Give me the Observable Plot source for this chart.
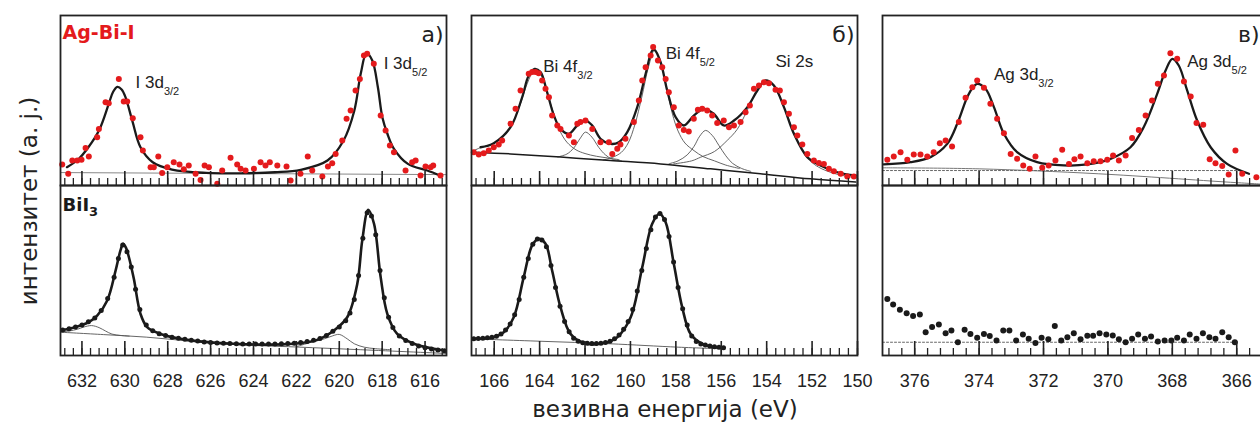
<!DOCTYPE html>
<html><head><meta charset="utf-8">
<script src="https://cdn.jsdelivr.net/npm/d3@7"></script>
<script src="https://cdn.jsdelivr.net/npm/@observablehq/plot@0.6"></script>
<style>
html,body{margin:0;padding:0;background:#fff;overflow:hidden;}
#wrap{position:relative;width:1260px;height:424px;overflow:hidden;background:#fff;}
</style></head><body><div id="wrap"></div>
<script>
// ---------- tick labels (binding energy, eV) ----------
const ticksA = [632,630,628,626,624,622,620,618,616];
const ticksB = [166,164,162,160,158,156,154,152,150];
const ticksC = [376,374,372,370,368,366];
const domainA = [633,615], domainB = [167,150], domainC = [377,365.2];

// ---------- a) I 3d, Ag-Bi-I (top) ----------
const dotsTopA = [[632.92,12.4],[632.64,6.9],[632.45,14.7],[632.22,14.7],[632.02,15.1],[631.83,22],[631.68,17.1],[631.29,28.4],[631.21,33.3],[630.9,49],[630.75,48.4],[630.28,62.7],[630.05,49.4],[629.89,49.4],[629.63,39.6],[629.27,28.4],[629.16,20.6],[628.8,10.8],[628.65,10.8],[628.44,17.1],[628.26,7.3],[628.02,10.8],[627.72,13.7],[627.45,12.4],[627.25,9.6],[627.02,11.8],[626.7,6.9],[626.47,3.3],[626.28,11.8],[626.08,10.8],[625.69,1],[625.46,8.8],[625.07,16.3],[624.76,12.4],[624.6,9.8],[624.37,8.8],[623.98,9.8],[623.67,13.7],[623.44,11.8],[623.24,13.7],[622.89,11.8],[622.46,11.2],[622.27,2.9],[621.81,6.9],[621.47,17.1],[621.26,8.8],[620.79,5.3],[620.53,11.2],[620.33,13.1],[620.17,18.6],[619.86,26.5],[619.66,39.2],[619.47,44.1],[619.24,55.9],[619.04,62.7],[618.85,76.5],[618.7,77.5],[618.39,71.6],[618.07,41.2],[617.84,32.4],[617.64,23.5],[617.45,19.6],[616.91,8.8],[616.6,13.7],[616.44,14.7],[616.21,5.9],[615.98,11.2],[615.74,10.8],[615.62,11.8],[615.28,5.9]];
const fitTopA = [[632.7,10.8],[632.2,15],[631.7,22.5],[631.2,32.5],[630.75,48],[630.55,55],[630.35,58],[630.15,56.5],[629.97,52],[629.65,38],[629.27,22.5],[628.7,13.7],[627.8,9.4],[626.2,7.4],[624.5,7.2],[623,7.8],[621.8,9.2],[620.55,14.7],[619.8,26.5],[619.3,44],[619.0,65.7],[618.73,77.8],[618.46,73.5],[618.2,57.8],[617.99,40],[617.76,30.6],[617.45,21.6],[616.8,12.7],[615.9,8.8],[615.3,5.9]];
const baseTopA = [[633,7.6],[615,6.4]];

// ---------- a) I 3d, BiI3 (bottom) ----------
const dotsBotA = [[632.9,15],[632.6,15.8],[632.3,16.8],[632,18],[631.7,19.8],[631.4,22],[631.1,26.5],[630.8,33.5],[630.5,46],[630.3,57],[630.1,65],[629.9,61],[629.7,52],[629.5,39],[629.3,27],[629,18],[628.7,14.5],[628.4,12.8],[628.1,11.8],[627.8,10.8],[627.5,10.2],[627.2,9.5],[626.9,8.9],[626.6,8.5],[626.3,8],[626,7.6],[625.7,7.4],[625.4,7.2],[625.1,7],[624.8,6.9],[624.5,6.8],[624.2,6.7],[623.9,6.8],[623.6,6.7],[623.3,6.8],[623,6.8],[622.7,6.9],[622.4,7],[622.1,7.2],[621.8,7.6],[621.5,8.2],[621.2,9],[620.9,10],[620.6,11.8],[620.3,14.2],[620,16.8],[619.7,20.5],[619.5,25],[619.3,33],[619.1,47],[618.9,69],[618.7,84],[618.5,82],[618.3,71],[618.1,50],[617.9,34],[617.7,22.5],[617.5,16.5],[617.2,11.5],[616.9,8.8],[616.6,7],[616.3,5.6],[616,4.6],[615.7,3.8],[615.4,3.2],[615.1,2.8]];
const fitBotA = [[633,14.7],[632.5,16],[632.07,17.6],[631.68,19.6],[631.29,23.5],[630.82,32.4],[630.43,50],[630.2,62],[630.08,65.7],[629.95,63.5],[629.81,57.8],[629.58,45.1],[629.27,24.5],[628.96,16.7],[628.34,12.7],[627.09,9.2],[624.92,6.9],[622.12,6.9],[621.03,9.2],[620.25,14.7],[619.63,22.5],[619.16,42.2],[618.93,67.6],[618.65,85.7],[618.38,77.5],[618.07,46.1],[617.76,24.5],[617.3,12.7],[616.52,6.9],[615.12,2.9]];
const baseBotA = [[633,13.7],[631,12.3],[629,10.8],[627,8.5],[625,6.5],[622,5],[619,3.4],[615,1.2]];
const compBotA1 = [[633,13.9],[632.6,14.4],[632.2,15.5],[631.9,16.8],[631.55,17.6],[631.2,16.4],[630.9,14.4],[630.6,12.6],[630.2,11.8],[629.8,11.4]];
const compBotA2 = [[622,5.2],[621.3,7.8],[620.7,9.8],[620.3,11.6],[620,12.4],[619.63,9.8],[619.3,6.9],[618.84,4.9],[618.3,4],[617.6,3.4]];

// ---------- б) Bi 4f / Si 2s, Ag-Bi-I (top) ----------
const dotsTopB = [[166.9,19.6],[166.68,18.2],[166.46,19],[166.24,20.6],[166.02,22.5],[165.8,24.1],[165.65,26.5],[165.28,36.3],[165.06,45.1],[164.84,55.9],[164.48,65.7],[164.33,66.7],[164.18,66.7],[164.04,66.1],[163.89,61.8],[163.74,56.9],[163.59,51.9],[163.45,41.2],[163.22,35.3],[163.08,33.3],[162.71,29.4],[162.49,25.5],[162.34,36.3],[162.2,37.3],[161.98,38.2],[161.68,33.3],[161.32,25.5],[160.95,25.5],[160.8,18.6],[160.58,21.6],[160.44,24.1],[160.22,27.5],[159.85,37.3],[159.63,50],[159.48,61.8],[159.33,69.6],[159.11,76.5],[159,81.4],[158.79,73.5],[158.6,69.6],[158.45,62.7],[158.31,54.9],[158.09,46.1],[157.87,35.3],[157.65,32.7],[157.43,31.8],[157.21,39.2],[157.03,44.5],[156.84,45.1],[156.62,44.1],[156.4,41.2],[156.18,36.7],[155.89,38.2],[155.66,34.3],[155.44,35.3],[155.15,37.3],[154.93,43.1],[154.74,47.1],[154.56,56.9],[154.34,58.8],[154.12,60.8],[153.9,60.2],[153.61,56.3],[153.42,55.9],[153.24,49],[153.02,42.2],[152.8,34.3],[152.65,29.4],[152.43,24.1],[152.21,18.6],[151.92,14.7],[151.7,13.3],[151.48,12.7],[151.26,9.8],[151.04,8.4],[150.74,6.9],[150.45,5.3],[150.16,5.3]];
const fitTopB = [[166.6,22.5],[166.02,24.9],[165.28,34.3],[164.77,51.9],[164.48,64.7],[164.22,68.6],[163.96,66.7],[163.67,54.9],[163.37,41.2],[163.08,33.3],[162.71,30.4],[162.34,35.3],[161.98,38.2],[161.68,35.3],[161.32,27.5],[160.88,24.5],[160.51,25.5],[160.14,31.4],[159.7,46.1],[159.33,65.7],[159.04,79.4],[158.94,79.8],[158.67,72.5],[158.38,55.9],[158.01,40.2],[157.65,35.3],[157.2,41.2],[156.77,45.1],[156.33,42.2],[155.89,35.3],[155.44,38.2],[154.85,46.1],[154.41,55.9],[154.05,61.8],[153.68,58.8],[153.24,46.1],[152.8,30.4],[152.21,16.7],[151.63,11.8],[150.89,7.8],[150.08,5.9]];
const baseTopB = [[166.9,19.6],[165.28,18.6],[163.08,16.7],[160.88,14.7],[158.67,12.7],[156.47,9.8],[154.27,6.9],[152.07,3.9],[150.08,2]];
const compTopB1 = [[166.9,20.5],[166.6,22.3],[166,24.8],[165.6,29],[165.28,34.3],[164.9,46],[164.6,58],[164.35,66],[164.22,68.4],[164,66.5],[163.7,56],[163.4,43],[163.1,32],[162.8,25.5],[162.4,21],[162,18.8],[161.5,17.2],[161,16.2],[160.5,15.2]];
const compTopB2 = [[163.2,16.8],[162.8,18.5],[162.5,22],[162.2,28],[161.98,31.4],[161.7,28.5],[161.4,22.5],[161.1,18],[160.8,15.5],[160.4,14.5]];
const compTopB3 = [[161.2,15],[160.8,16.5],[160.4,19.5],[160.1,25],[159.8,36],[159.5,52],[159.2,70],[158.94,79.6],[158.7,73.5],[158.4,57],[158.15,42],[157.9,32],[157.6,25],[157.2,20.5],[156.8,17],[156.3,14.5],[155.8,12],[155.2,10]];
const compTopB4 = [[158.3,12.8],[157.9,14.5],[157.5,18],[157.2,23],[156.95,29],[156.69,32.4],[156.4,29.5],[156.1,23.5],[155.8,17.5],[155.5,13],[155.1,10],[154.7,8.3]];
const compTopB5 = [[158.1,12.7],[157.3,14.5],[156.9,16.7],[156.3,20],[155.74,26.5],[155.3,33],[154.9,43],[154.5,54],[154.2,60],[154.05,61.5],[153.8,60],[153.5,54],[153.2,45],[152.8,31],[152.4,20],[152,13.5],[151.6,10],[151,7],[150.5,5.5],[150,4.5]];

// ---------- б) Bi 4f, BiI3 (bottom) ----------
const dotsBotB = [[166.9,9.9],[166.7,10],[166.5,10.2],[166.3,10.4],[166.1,10.7],[165.9,11.3],[165.7,12.6],[165.5,15],[165.3,18.5],[165.1,24],[164.9,33],[164.7,46],[164.5,57],[164.3,65.5],[164.1,68.5],[163.9,68],[163.7,64],[163.5,53],[163.3,40],[163.1,29],[162.9,20],[162.7,14],[162.5,10.2],[162.3,8.4],[162.1,7.5],[161.9,7.2],[161.7,7.1],[161.5,7.1],[161.3,7.2],[161.1,7.6],[160.9,8.4],[160.7,9.8],[160.5,12],[160.3,15.5],[160.1,20],[159.9,27],[159.7,38],[159.5,50],[159.3,63],[159.1,74],[158.9,81.5],[158.7,83.5],[158.5,80],[158.3,70],[158.1,55],[157.9,40],[157.7,27.5],[157.5,18],[157.3,11.5],[157.1,8.2],[156.9,6.8],[156.7,6.2],[156.5,5.6],[156.3,5.2],[156.1,4.8],[155.9,4.5]];
const fitBotB = [[166.97,9.8],[166.02,10.8],[165.58,13.7],[165.14,22.5],[164.7,46.1],[164.33,64.7],[164.04,68.6],[163.74,65.7],[163.45,50],[163.08,28.4],[162.64,12.7],[162.05,7.3],[161.17,7.3],[160.58,10.8],[159.99,22.5],[159.48,51.9],[159.04,77.5],[158.72,83.4],[158.45,78.4],[158.09,53.9],[157.72,28.4],[157.35,12.7],[156.77,6.5],[155.89,4.5]];
const baseBotB = [[167,9.8],[164,8.4],[160.9,6.9],[157.9,4.9],[155.9,3.9]];

// ---------- в) Ag 3d, Ag-Bi-I (top) ----------
const dotsTopC = [[376.85,15.1],[376.65,17.1],[376.44,19.6],[376.23,15.1],[376.03,18.2],[375.82,18.2],[375.61,17.1],[375.41,19.6],[375.22,24.9],[375.04,26.5],[374.84,22.9],[374.63,37.3],[374.42,51.6],[374.21,57.8],[374.06,61.8],[373.85,57.5],[373.65,48.1],[373.44,39.2],[373.23,30.8],[373.02,18.6],[372.82,15.7],[372.63,11.8],[372.43,9.8],[372.25,17.1],[372.04,10.4],[371.84,11.8],[371.63,14.7],[371.42,21],[371.21,12.7],[371.04,15.5],[370.85,17.1],[370.64,13.1],[370.44,14.3],[370.23,14.3],[370.02,15.1],[369.84,17.6],[369.66,14.7],[369.45,17.6],[369.25,28],[369.04,32.7],[368.83,41.2],[368.63,50],[368.45,59.8],[368.26,64.7],[368.06,77.8],[367.85,74.5],[367.64,61.2],[367.43,52.4],[367.25,36.7],[367.04,35.7],[366.84,15.5],[366.66,13.1],[366.45,11.4],[366.25,6.5],[366.04,20.6],[365.83,6.9],[365.39,4.9]];
const fitTopC = [[376.96,12.4],[376.13,13.7],[375.51,16.7],[374.99,24.5],[374.68,36.3],[374.37,51.9],[374.2,57.5],[374.06,59.8],[373.8,56.9],[373.54,46.1],[373.23,30.4],[372.82,19.6],[372.2,13.7],[371.37,11.8],[370.64,12.4],[369.92,15.7],[369.3,22.5],[368.89,34.3],[368.47,53.9],[368.21,67.6],[368,74.5],[367.8,70.6],[367.54,55.9],[367.23,38.2],[366.81,22.5],[366.3,12.7],[365.62,6.9]];
const baseTopC = [[377,10.4],[374,9.8],[370.3,6.9],[366.2,1.9],[365.2,0.8]];
const flatTopC = [[377,8.8],[366,8.8]];

// ---------- в) Ag 3d, BiI3 (bottom) ----------
const dotsBotC = [[376.85,33.3],[376.67,30],[376.46,26.9],[376.25,24.9],[376.05,23.3],[375.84,24.1],[375.66,13.7],[375.46,16.7],[375.25,18.2],[375.04,13.1],[374.86,14.7],[374.66,7.8],[374.45,15.1],[374.27,12.7],[374.06,10.4],[373.85,12.7],[373.67,11.4],[373.46,8.8],[373.25,14.7],[373.06,14.7],[372.85,8.8],[372.64,12.4],[372.46,9.8],[372.25,7.3],[372.06,10.4],[371.85,9.6],[371.65,17.3],[371.45,8.8],[371.26,10.8],[371.06,13.1],[370.85,9.6],[370.64,11.6],[370.46,11.6],[370.26,13.1],[370.05,12.4],[369.85,11.8],[369.66,9.6],[369.45,7.8],[369.25,9.8],[369.06,12.4],[368.85,9.8],[368.66,11.2],[368.45,8.2],[368.24,8.8],[368.03,8.8],[367.85,10.4],[367.64,8.8],[367.46,12.4],[367.25,9.8],[367.05,13.1],[366.85,10.8],[366.66,9.8],[366.45,13.7],[366.25,10.8],[366.06,7.8]];
const flatBotC = [[377,7.8],[366,7.8]];

// ---------- annotations ----------
const annotA = [{label:"I 3d_3/2", E:629.5, I:57.5},{label:"I 3d_5/2", E:617.93, I:68.8}];
const annotB = [{label:"Bi 4f_3/2", E:163.84, I:66.6},{label:"Bi 4f_5/2", E:158.45, I:74.5},{label:"Si 2s", E:153.61, I:69.6}];
const annotC = [{label:"Ag 3d_3/2", E:373.54, I:61.8},{label:"Ag 3d_5/2", E:367.54, I:69.6}];
const panelLetters = ["а)","б)","в)"];
const sampleNames = ["Ag-Bi-I","BiI_3"];
const xTitle = "везивна енергија (eV)";
const yTitle = "интензитет (а. ј.)";

// ---------- drawing ----------
const RED = "#e41a1c", INK = "#1a1a1a";
const PH = 170, ROWS = [15, 185];
const COLS = [{left:60,width:386,domain:domainA,ticks:ticksA},{left:471,width:386,domain:domainB,ticks:ticksB},{left:882,width:380,domain:domainC,ticks:ticksC}];
const wrap = document.getElementById("wrap");
const X = d => d[0], Y = d => d[1];
const SANS = "Liberation Sans, Arial, sans-serif", DV = "DejaVu Sans, sans-serif";

function minorTicks([a,b]) {
  const lo = Math.min(a,b), hi = Math.max(a,b);
  return d3.range(Math.ceil(lo*2.5-1e-9), Math.floor(hi*2.5+1e-9)+1).map(k => +(k*0.4).toFixed(1));
}
const fit = (data, w=2.3) => Plot.line(data, {x:X, y:Y, stroke:INK, strokeWidth:w, curve:"catmull-rom", clip:true});
const thin = (data, o={}) => Plot.line(data, {x:X, y:Y, stroke:"#555", strokeWidth:0.9, curve:"catmull-rom", clip:true, ...o});
const dots = (data, fill, r) => Plot.dot(data, {x:X, y:Y, r, fill, stroke:"none"});
const labels = data => Plot.text(data, {x:"E", y:"I", text:"label", textAnchor:"start", lineAnchor:"bottom", fontSize:17, fontFamily:SANS, fill:"#222"});
const letter = s => Plot.text([s], {text:d=>d, frameAnchor:"top-right", dx:-3, dy:26, textAnchor:"end", lineAnchor:"bottom", fontSize:22, fontFamily:DV, fill:"#222"});

function panel(ci, row, marks) {
  const c = COLS[ci], m = 2, mb = row === 1 ? 44 : 2;
  const all = [
    ...marks,
    Plot.tickX(minorTicks(c.domain), {x:d=>d, insetTop:PH-7, stroke:"#222", strokeWidth:1.3}),
    Plot.tickX(c.ticks, {x:d=>d, insetTop:PH-14, stroke:"#222", strokeWidth:1.6}),
    row === 1 ? Plot.text(c.ticks, {x:d=>d, frameAnchor:"bottom", dy:31, lineAnchor:"bottom", text:d=>String(d), fontSize:18, fontFamily:SANS, fill:"#222"}) : null,
    Plot.frame({stroke:"#222", strokeWidth:1.8})
  ].filter(Boolean);
  const svg = Plot.plot({
    width: c.width + 2*m, height: PH + m + mb,
    marginLeft:m, marginRight:m, marginTop:m, marginBottom:mb,
    x:{domain:c.domain, axis:null}, y:{domain:[0,100], axis:null},
    style:{background:"transparent", overflow:"visible"},
    marks: all
  });
  Object.assign(svg.style, {position:"absolute", left:(c.left-m)+"px", top:(ROWS[row]-m)+"px", maxWidth:"none"});
  wrap.append(svg);
}

// a)
panel(0, 0, [
  thin(baseTopA, {stroke:"#888", strokeWidth:1}),
  fit(fitTopA), dots(dotsTopA, RED, 3), labels(annotA), letter(panelLetters[0]),
  Plot.text([sampleNames[0]], {text:d=>d, frameAnchor:"top-left", dx:2, dy:23, lineAnchor:"bottom", textAnchor:"start", fontSize:19, fontWeight:"bold", fontFamily:DV, fill:RED})
]);
panel(0, 1, [
  thin(baseBotA), thin(compBotA1), thin(compBotA2),
  dots(dotsBotA, INK, 2.5), fit(fitBotA, 2.6),
  Plot.text([sampleNames[1]], {text:d=>d, frameAnchor:"top-left", dx:2, dy:25, lineAnchor:"bottom", textAnchor:"start", fontSize:18, fontWeight:"bold", fontFamily:DV, fill:INK})
]);
// б)
panel(1, 0, [
  thin(compTopB1), thin(compTopB2), thin(compTopB3), thin(compTopB4), thin(compTopB5),
  Plot.line(baseTopB, {x:X, y:Y, stroke:INK, strokeWidth:1.5, curve:"catmull-rom", clip:true}),
  fit(fitTopB), dots(dotsTopB, RED, 3), labels(annotB), letter(panelLetters[1])
]);
panel(1, 1, [
  thin(baseBotB), dots(dotsBotB, INK, 2.5), fit(fitBotB, 2.6)
]);
// в)
panel(2, 0, [
  thin(baseTopC, {stroke:"#777", strokeWidth:1}),
  thin(flatTopC, {stroke:"#666", strokeWidth:1, strokeDasharray:"2,2"}),
  fit(fitTopC), dots(dotsTopC, RED, 3), labels(annotC), letter(panelLetters[2])
]);
panel(2, 1, [
  thin(flatBotC, {stroke:"#666", strokeWidth:1, strokeDasharray:"2,2"}),
  dots(dotsBotC, INK, 3)
]);

// subscripts: "main_sub"
const NS = "http://www.w3.org/2000/svg";
wrap.querySelectorAll("text").forEach(t => {
  const s = t.textContent, i = s.indexOf("_");
  if (i < 0) return;
  const sub = s.slice(i+1), big = sub.length === 1;
  t.textContent = "";
  const a = document.createElementNS(NS, "tspan"); a.textContent = s.slice(0, i);
  const b = document.createElementNS(NS, "tspan"); b.textContent = sub;
  b.setAttribute("font-size", big ? 13 : 11);
  b.setAttribute("dy", big ? 5 : 7);
  t.append(a, b);
});

// axis titles
const over = document.createElementNS(NS, "svg");
over.setAttribute("width", 1260); over.setAttribute("height", 424);
over.style.cssText = "position:absolute;left:0;top:0;pointer-events:none;overflow:visible";
const xt = document.createElementNS(NS, "text");
xt.setAttribute("x", 665); xt.setAttribute("y", 417); xt.setAttribute("text-anchor", "middle");
xt.setAttribute("font-family", DV); xt.setAttribute("font-size", 23); xt.setAttribute("fill", "#222");
xt.textContent = xTitle;
const yt = document.createElementNS(NS, "text");
yt.setAttribute("transform", "translate(37,201) rotate(-90)"); yt.setAttribute("text-anchor", "middle");
yt.setAttribute("font-family", DV); yt.setAttribute("font-size", 23); yt.setAttribute("fill", "#222");
yt.textContent = yTitle;
over.append(xt, yt);
wrap.append(over);
</script></body></html>
